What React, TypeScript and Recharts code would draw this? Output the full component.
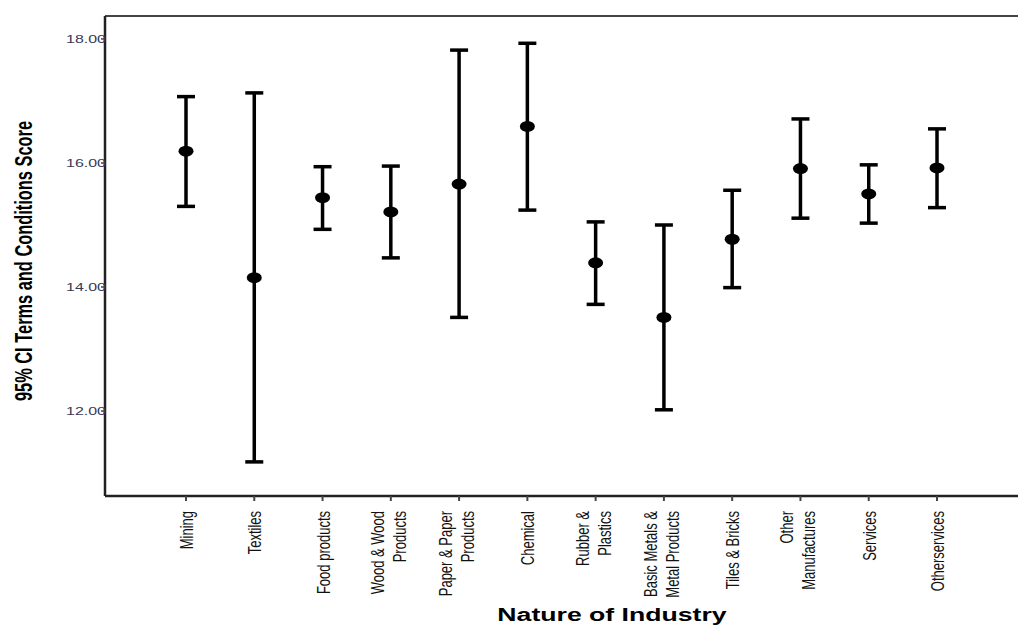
import React from "react";
import { ComposedChart, Scatter, ErrorBar, XAxis, YAxis, ReferenceLine } from "recharts";

const industries = [
  "Mining",
  "Textiles",
  "Food products",
  "Wood & Wood|Products",
  "Paper & Paper|Products",
  "Chemical",
  "Rubber &|Plastics",
  "Basic Metals &|Metal Products",
  "Tiles & Bricks",
  "Other|Manufactures",
  "Services",
  "Otherservices",
];
const means = [16.19, 14.15, 15.44, 15.21, 15.66, 16.59, 14.39, 13.51, 14.77, 15.91, 15.5, 15.92];
const lows = [15.3, 11.18, 14.93, 14.47, 13.51, 15.24, 13.72, 12.02, 13.99, 15.11, 15.03, 15.28];
const highs = [17.07, 17.13, 15.94, 15.95, 17.82, 17.93, 15.05, 15.0, 15.56, 16.71, 15.97, 16.55];
const yTicks = [12, 14, 16, 18];

const data = industries.map((name, i) => ({
  name,
  mean: means[i],
  err: [means[i] - lows[i], highs[i] - means[i]],
}));

const FONT = "'Liberation Sans', Arial, Helvetica, sans-serif";
const STRETCH = 1.45;

const XTick = (props: any) => {
  const { x, payload } = props;
  const lines: string[] = String(payload.value).split("|");
  const top = 511;
  const offsets = lines.length === 1 ? [0] : [-14, 8];
  return (
    <g>
      {lines.map((ln, i) => (
        <text
          key={i}
          transform={`translate(${x + offsets[i]},${top}) rotate(-90) scale(1,${STRETCH})`}
          x={0}
          y={0}
          textAnchor="end"
          dominantBaseline="central"
          fontFamily={FONT}
          fontSize={13}
          fill="#111"
        >
          {ln}
        </text>
      ))}
    </g>
  );
};

const YTick = (props: any) => {
  const { y, payload } = props;
  return (
    <text
      transform={`translate(106,${y}) scale(${STRETCH},1)`}
      x={0}
      y={0}
      textAnchor="end"
      dominantBaseline="central"
      fontFamily={FONT}
      fontSize={11}
      fill="#3a3a55"
    >
      {Number(payload.value).toFixed(2)}
    </text>
  );
};

const Dot = (props: any) => {
  const { cx, cy } = props;
  return <ellipse cx={cx} cy={cy} rx={7.5} ry={5.5} fill="#000" />;
};

const YLabel = (props: any) => {
  const vb = props.viewBox || { x: 45, y: 16, width: 60, height: 480 };
  const cx = 24;
  const cy = vb.y + vb.height / 2 + 5;
  return (
    <text
      transform={`translate(${cx},${cy}) rotate(-90) scale(1,${STRETCH})`}
      x={0}
      y={0}
      textAnchor="middle"
      dominantBaseline="central"
      fontFamily={FONT}
      fontWeight="bold"
      fontSize={16.4}
      fill="#000"
    >
      95% CI Terms and Conditions Score
    </text>
  );
};

const XLabel = () => {
  return (
    <text
      transform={`translate(612,621) scale(1.48,1)`}
      x={0}
      y={0}
      textAnchor="middle"
      fontFamily={FONT}
      fontWeight="bold"
      fontSize={18}
      fill="#000"
    >
      Nature of Industry
    </text>
  );
};

export default function App() {
  return (
    <div style={{ position: "absolute", left: 0, top: 0, background: "#fff" }}>
      <ComposedChart
        width={1023}
        height={625}
        data={data}
        margin={{ top: 16, right: 5, bottom: 29, left: 45 }}
      >
        <XAxis
          dataKey="name"
          type="category"
          interval={0}
          height={100}
          padding={{ left: 81, right: 81 }}
          axisLine={{ stroke: "#222", strokeWidth: 2.5 }}
          tickLine={{ stroke: "#444", strokeWidth: 2 }}
          tickSize={5}
          tick={<XTick />}
          label={<XLabel />}
        />
        <YAxis
          type="number"
          domain={[10.63, 18.37]}
          ticks={yTicks}
          allowDataOverflow
          width={60}
          axisLine={{ stroke: "#222", strokeWidth: 2.5 }}
          tickLine={{ stroke: "#444", strokeWidth: 1.5 }}
          tickSize={4}
          tick={<YTick />}
          label={<YLabel />}
        />
        <ReferenceLine y={18.37} stroke="#444" strokeWidth={2} ifOverflow="visible" />
        <Scatter dataKey="mean" shape={<Dot />} isAnimationActive={false}>
          <ErrorBar
            dataKey="err"
            direction="y"
            width={9}
            stroke="#000"
            strokeWidth={3.5}
            isAnimationActive={false}
          />
        </Scatter>
      </ComposedChart>
    </div>
  );
}
